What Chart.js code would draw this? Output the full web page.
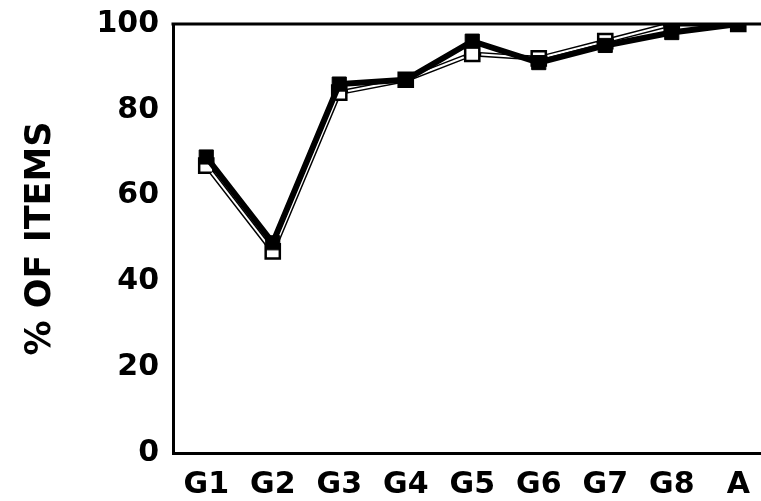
<!DOCTYPE html>
<html>
<head>
<meta charset="utf-8">
<script src="https://cdn.jsdelivr.net/npm/chart.js@4/dist/chart.umd.min.js"></script>
<style>
  html, body { margin: 0; padding: 0; background: #fff; overflow: hidden; }
  #wrap { position: relative; width: 761px; height: 501px; overflow: hidden; }
  #c { display: block; }
</style>
</head>
<body>
<div id="wrap"><canvas id="c" width="784" height="501"></canvas></div>
<script>
// ---- data ----
const categories = ['G1', 'G2', 'G3', 'G4', 'G5', 'G6', 'G7', 'G8', 'A'];
const filledSeries = [69, 49, 86, 87, 96, 91, 95, 98, 100];
const openSeries   = [67, 47, 84, 87, 93, 92, 96, 100, 100];
const yTicks = [0, 20, 40, 60, 80, 100];
const yTitle = '% OF ITEMS';

// hollow core for the open series line
const hollowLine = {
  id: 'hollowLine',
  afterDatasetDraw(chart, args) {
    if (args.index !== 1) return;
    const pts = args.meta.data;
    const ctx = chart.ctx;
    const r = 9;
    ctx.save();
    ctx.strokeStyle = '#fff';
    ctx.lineWidth = 2;
    ctx.lineCap = 'butt';
    for (let i = 0; i < pts.length - 1; i++) {
      const a = pts[i], b = pts[i + 1];
      const dx = b.x - a.x, dy = b.y - a.y;
      const len = Math.hypot(dx, dy);
      if (len < 2 * r + 2) continue;
      const ux = dx / len, uy = dy / len;
      ctx.beginPath();
      ctx.moveTo(a.x + ux * r, a.y + uy * r);
      ctx.lineTo(b.x - ux * r, b.y - uy * r);
      ctx.stroke();
    }
    ctx.restore();
  }
};

const frame = {
  id: 'frame',
  afterDraw(chart) {
    const { left, top, right, bottom } = chart.chartArea;
    const ctx = chart.ctx;
    ctx.save();
    ctx.strokeStyle = '#000';
    ctx.lineWidth = 3;
    ctx.beginPath();
    ctx.moveTo(left - 1.5, top);
    ctx.lineTo(right, top);
    ctx.lineTo(right, bottom);
    ctx.stroke();
    ctx.restore();
  }
};

const tickFont = { family: 'DejaVu Sans', size: 30, weight: 'bold' };

new Chart(document.getElementById('c'), {
  type: 'line',
  data: {
    labels: categories,
    datasets: [
      {
        label: 'filled',
        data: filledSeries,
        borderColor: '#000',
        backgroundColor: '#000',
        borderWidth: 6,
        pointStyle: 'rect',
        pointRadius: 10,
        pointBorderWidth: 1,
        pointBorderColor: '#000',
        pointBackgroundColor: '#000',
        tension: 0
      },
      {
        label: 'open',
        data: openSeries,
        borderColor: '#000',
        backgroundColor: '#fff',
        borderWidth: 5,
        pointStyle: 'rect',
        pointRadius: 10,
        pointBorderWidth: 2.5,
        pointBorderColor: '#000',
        pointBackgroundColor: '#fff',
        tension: 0
      }
    ]
  },
  options: {
    responsive: false,
    animation: false,
    layout: { padding: { top: 24, right: 2, left: 0, bottom: 0 } },
    plugins: { legend: { display: false }, tooltip: { enabled: false } },
    scales: {
      x: {
        offset: true,
        afterFit: (s) => { s.height = 48; s.paddingLeft = 0; s.paddingRight = 0; },
        grid: { display: false, drawTicks: false },
        border: { display: true, color: '#000', width: 3 },
        ticks: { color: '#000', padding: 14, font: tickFont, maxRotation: 0, autoSkip: false }
      },
      y: {
        min: 0, max: 100,
        afterBuildTicks: (s) => { s.ticks = yTicks.map(v => ({ value: v })); },
        afterFit: (s) => { s.width = 173; s.paddingTop = 0; s.paddingBottom = 0; },
        grid: { display: false, drawTicks: false },
        border: { display: true, color: '#000', width: 3 },
        ticks: { color: '#000', padding: 14, font: tickFont },
        title: {
          display: true,
          text: yTitle,
          color: '#000',
          font: { family: 'DejaVu Sans', size: 35, weight: 'bold' },
          padding: { top: 20, bottom: 0 }
        }
      }
    }
  },
  plugins: [hollowLine, frame]
});
</script>
</body>
</html>
